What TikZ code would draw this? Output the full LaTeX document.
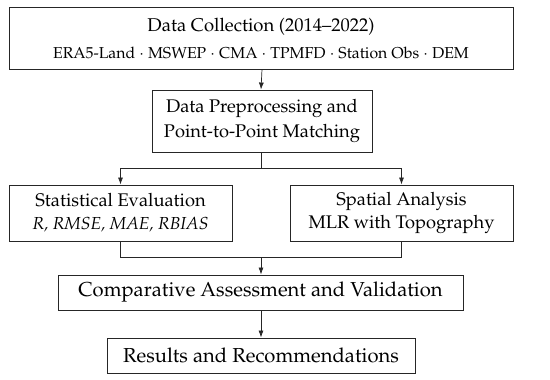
\documentclass[tikz,border=0pt]{standalone}
\usepackage[T1]{fontenc}
\usepackage{mathpazo}
\usetikzlibrary{arrows.meta}
\tikzset{
  box/.style={draw=black!85, line width=0.9pt, align=center, inner sep=0pt},
  txta/.style={font=\fontsize{18.3}{25}\selectfont},
  txtb/.style={font=\fontsize{18.3}{23}\selectfont},
  big/.style={font=\fontsize{20.2}{24}\selectfont},
  conn/.style={line width=0.7pt, draw=black!85},
  arr/.style={conn, -{Latex[length=7pt,width=5pt]}}
}
\begin{document}
\begin{tikzpicture}[x=1pt,y=-1pt]
\useasboundingbox (0,0) rectangle (550,380);
\node[box, font=\fontsize{15.8}{27}\selectfont, minimum width=504pt, minimum height=62pt] (b1) at (261,38)
  {{\fontsize{18.5}{27}\selectfont Data Collection (2014--2022)}\\
   ERA5-Land $\cdot$ MSWEP $\cdot$ CMA $\cdot$ TPMFD $\cdot$ Station Obs $\cdot$ DEM};
\node[box, txta, minimum width=220pt, minimum height=62pt] (b2) at (262,121)
  {Data Preprocessing and\\Point-to-Point Matching};
\node[box, txtb, minimum width=223pt, minimum height=56pt] (b3) at (120.5,213)
  {Statistical Evaluation\\{\fontsize{17.4}{23}\selectfont\itshape R, RMSE, MAE, RBIAS}};
\node[box, txtb, minimum width=223pt, minimum height=56pt] (b4) at (401.5,213)
  {Spatial Analysis\\MLR with Topography};
\node[box, big, minimum width=405pt, minimum height=35pt] (b5) at (260.5,292.5)
  {Comparative Assessment and Validation};
\node[box, big, minimum width=308pt, minimum height=35pt] (b6) at (261,355.5)
  {Results and Recommendations};
\coordinate (j1) at (261,168);
\coordinate (j2) at (261,257);
\draw[arr] (b1.south -| b2.north) -- (b2.north -| b1.south);
\draw[conn] (b2.south -| j1) -- (j1);
\draw[arr] (j1) -| (b3.north);
\draw[arr] (j1) -| (b4.north);
\draw[conn] (b3.south) |- (j2);
\draw[conn] (b4.south) |- (j2);
\draw[arr] (j2) -- (b5.north -| j2);
\draw[arr] (b5.south -| j2) -- (b6.north -| j2);
\end{tikzpicture}
\end{document}
